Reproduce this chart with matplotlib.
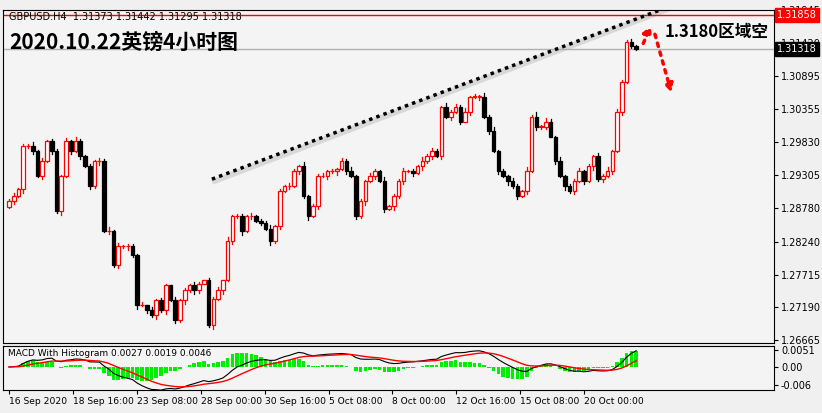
import matplotlib
matplotlib.use("Agg")
import matplotlib.pyplot as plt
import numpy as np
from matplotlib.patches import Rectangle

plt.rcParams['font.family'] = ['Noto Sans CJK SC', 'DejaVu Sans']

closes = [1.2889,1.2897,1.2908,1.2977,1.2977,1.2969,1.2929,1.2953,1.2985,1.2969,
          1.2873,1.2929,1.2985,1.2969,1.2985,1.2961,1.2945,1.2913,1.2953,1.2953,
          1.2841,1.2841,1.2786,1.2817,1.2817,1.2817,1.2802,1.2722,1.2722,1.2714,
          1.2706,1.2730,1.2714,1.2754,1.2730,1.2698,1.2730,1.2746,1.2754,1.2746,
          1.2757,1.2762,1.2690,1.2733,1.2746,1.2762,1.2825,1.2865,1.2865,1.2841,
          1.2865,1.2865,1.2857,1.2854,1.2845,1.2825,1.2849,1.2905,1.2913,1.2913,
          1.2937,1.2945,1.2897,1.2865,1.2881,1.2929,1.2929,1.2937,1.2937,1.2940,
          1.2953,1.2937,1.2929,1.2865,1.2889,1.2921,1.2929,1.2937,1.2921,1.2876,
          1.2881,1.2897,1.2921,1.2937,1.2937,1.2934,1.2945,1.2953,1.2961,1.2969,
          1.2961,1.3040,1.3024,1.3032,1.3040,1.3016,1.3032,1.3056,1.3056,1.3056,
          1.3024,1.3001,1.2969,1.2937,1.2929,1.2921,1.2913,1.2897,1.2905,1.2937,
          1.3024,1.3008,1.3008,1.3016,1.2992,1.2953,1.2929,1.2913,1.2905,1.2921,
          1.2937,1.2921,1.2945,1.2961,1.2924,1.2929,1.2937,1.2969,1.3032,1.3080,
          1.3143,1.3137,1.31318]
up_wick = [int(c) for c in "3524361523415263142536251432516243152436214351624315243614253162435142536142531624351426354162435142536142531627354162435142536142"]
lo_wick = [int(c) for c in "2416352415362415243615243625143625143625413625143625142635241536241536241536241526341526341526341526341526341526341526341526341526"]
opens = [1.2880] + closes[:-1]
first_label_dates = ["16 Sep 2020", "18 Sep 16:00", "23 Sep 08:00", "28 Sep 00:00", "30 Sep 16:00",
                     "5 Oct 08:00", "8 Oct 00:00", "12 Oct 16:00", "15 Oct 08:00", "20 Oct 00:00"]
price_ticks = [1.31945, 1.31420, 1.30895, 1.30355, 1.29830, 1.29305, 1.28780, 1.28240, 1.27715, 1.27190, 1.26665]

n = len(closes)
xs = np.linspace(0, 157, n)
bg = '#f4f4f4'
fig = plt.figure(figsize=(8.22, 4.13), dpi=100, facecolor='#f0f0f0')
ax = fig.add_axes([3/822, 1-343/413, 771/822, 333/413], facecolor=bg)
axm = fig.add_axes([3/822, 1-390/413, 771/822, 44/413], facecolor=bg)

for i in range(n):
    o, c = opens[i], closes[i]
    h = max(o, c) + up_wick[i % len(up_wick)] * 0.0001
    l = min(o, c) - lo_wick[i % len(lo_wick)] * 0.0001
    col = 'red' if c >= o else 'black'
    ax.plot([xs[i], xs[i]], [l, h], color=col, lw=0.9, zorder=2)
    if c >= o:
        ax.add_patch(Rectangle((xs[i]-0.45, o), 0.9, max(c-o, 0.00005), facecolor='white', edgecolor='red', lw=0.9, zorder=3))
    else:
        ax.add_patch(Rectangle((xs[i]-0.45, c), 0.9, max(o-c, 0.00005), facecolor='black', edgecolor='black', lw=0.9, zorder=3))

ax.set_xlim(-1.5, 191.5)
ax.set_ylim(1.26620, 1.31910)
ax.yaxis.tick_right()
ax.tick_params(axis='y', length=3, pad=2)
ax.set_yticks(price_ticks)
ax.set_yticklabels([f"{p:.5f}" for p in price_ticks], fontsize=7, family='DejaVu Sans')
ax.set_xticks([])
ax.axhline(1.31858, color='red', lw=1)
ax.axhline(1.31318, color='#b0b0b0', lw=1)
ax.text(1.004, 1.31858, "1.31858", transform=ax.get_yaxis_transform(), fontsize=7, color='white',
        va='center', ha='left', family='DejaVu Sans', zorder=10,
        bbox=dict(facecolor='red', edgecolor='red', pad=1.5))
ax.text(1.004, 1.31318, "1.31318", transform=ax.get_yaxis_transform(), fontsize=7, color='white',
        va='center', ha='left', family='DejaVu Sans', zorder=10,
        bbox=dict(facecolor='black', edgecolor='black', pad=1.5))
# trendline
ax.plot([51.5, 164.5], [1.2921, 1.3195], color='#d8d8d8', lw=4, zorder=1)
ax.plot([50.8, 164], [1.2924, 1.3197], color='black', lw=2.5, ls=(0, (1, 1.2)), zorder=4)
# arrows
ax.annotate("", xy=(161, 1.3174), xytext=(158.5, 1.3137),
            arrowprops=dict(arrowstyle='-|>', color='red', lw=2.5, ls=':', mutation_scale=12))
ax.annotate("", xy=(166, 1.3058), xytext=(161.5, 1.3160),
            arrowprops=dict(arrowstyle='-|>', color='red', lw=2.5, ls=':', mutation_scale=12))
ax.text(164, 1.3160, "1.3180区域空", fontsize=12, fontweight='bold', va='center')
ax.text(0.008, 0.995, "GBPUSD.H4  1.31373 1.31442 1.31295 1.31318", transform=ax.transAxes,
        fontsize=7, va='top', family='DejaVu Sans')
ax.text(0.008, 0.935, "2020.10.22英镑4小时图", transform=ax.transAxes, fontsize=15,
        fontweight='bold', va='top')

# MACD
c = np.array(closes)
def ema(a, span):
    k = 2/(span+1); out = [a[0]]
    for v in a[1:]:
        out.append(out[-1] + k*(v-out[-1]))
    return np.array(out)
macd = ema(c, 12) - ema(c, 26)
sig = ema(macd, 9)
hist = macd - sig
axm.bar(xs, hist*1.6, width=0.9, color='#00ee00')
axm.plot(xs, macd, color='black', lw=0.8)
axm.plot(xs, sig, color='red', lw=1)
axm.set_xlim(-1.5, 191.5)
axm.set_ylim(-0.0055, 0.0050)
axm.yaxis.tick_right()
axm.tick_params(axis='y', length=3, pad=2)
axm.set_yticks([0.0040, 0.0, -0.0043])
axm.set_yticklabels(["0.0051", "0.00", "-0.006"], fontsize=7, family='DejaVu Sans')
axm.set_xticks([k*16 for k in range(len(first_label_dates))])
axm.set_xticklabels(first_label_dates, fontsize=6.6, family='DejaVu Sans', ha='left')
axm.tick_params(axis='x', length=3, pad=2)
axm.text(0.006, 0.93, "MACD With Histogram 0.0027 0.0019 0.0046", transform=axm.transAxes,
         fontsize=6.5, va='top', family='DejaVu Sans')
for a in (ax, axm):
    for s in a.spines.values():
        s.set_color('black')
fig.savefig("out.png", dpi=100, facecolor=fig.get_facecolor())
